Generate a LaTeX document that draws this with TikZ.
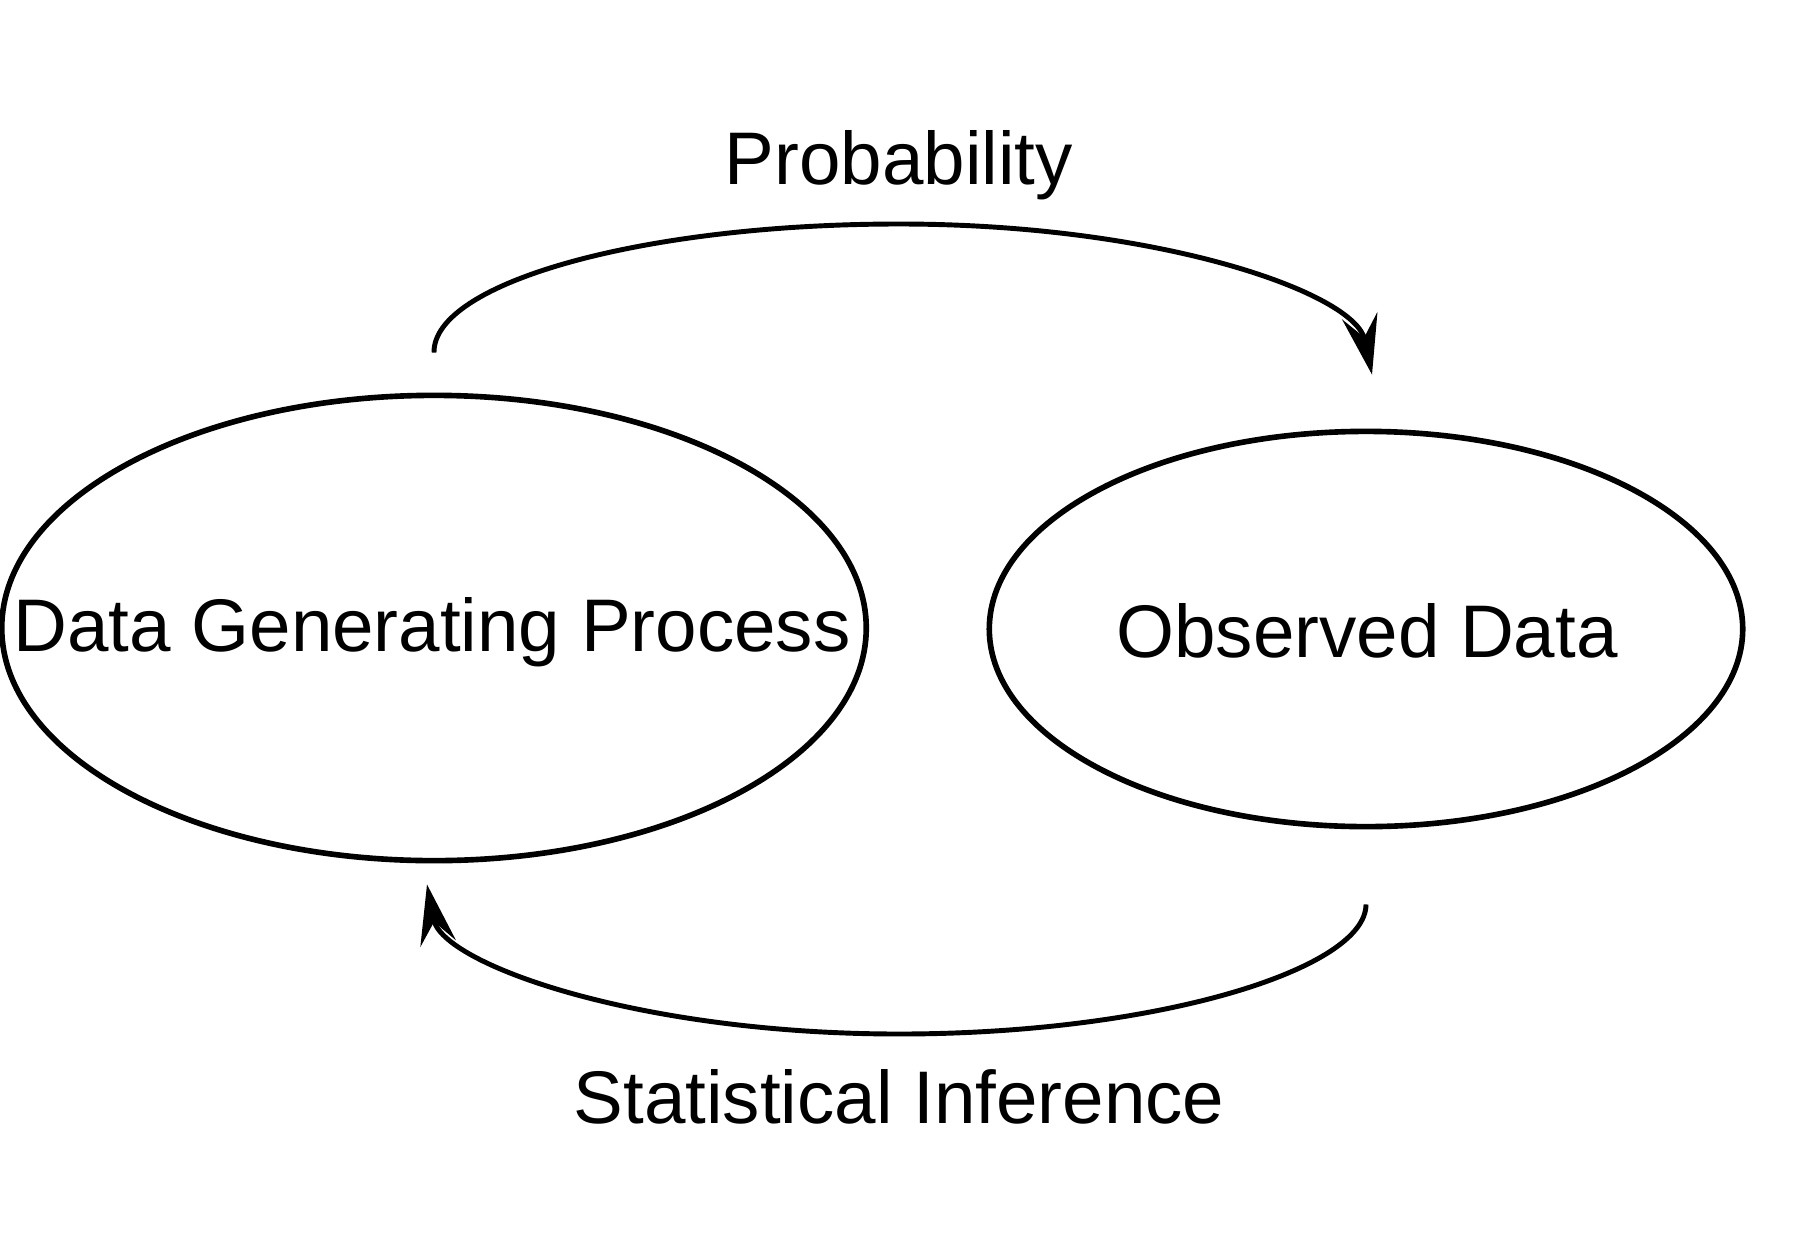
\documentclass[tikz,border=0pt]{standalone}
\usepackage{fontspec}
\setmainfont{Liberation Sans}
\usetikzlibrary{shapes.geometric,arrows.meta,calc}
\tikzset{
    blob/.style={draw, ellipse, line width=1.6pt, inner sep=0pt},
    txt/.style={anchor=base, inner sep=0pt, font=\fontsize{21.2}{26}\selectfont},
    flow/.style={line width=1.4pt, -{Stealth[length=6mm, width=3.6mm, inset=2.2mm]}}
}
\begin{document}
\begin{tikzpicture}[x=0.01cm, y=0.01cm]
        \useasboundingbox (0, 0) rectangle (1800, 1259);
        \node [blob, minimum width=8.64cm, minimum height=4.65cm] (dgp) at (434, 631) {};
        \node [blob, minimum width=7.53cm, minimum height=3.95cm] (obs) at (1366, 630) {};
        \node [txt] (dgptext) at (432, 608) {Data Generating Process};
        \node [txt] (obstext) at (1367, 602) {Observed Data};
        \coordinate (pstart) at ($(dgp.north)+(0, 40)$);
        \coordinate (ptop) at (899, 1035);
        \coordinate (pend) at ($(obs.north)+(6, 54)$);
        \coordinate (sstart) at ($(obs.south)+(0, -75)$);
        \coordinate (sbottom) at (899, 225);
        \coordinate (send) at ($(dgp.south)+(-7, -21)$);
        \draw [flow] (pstart) .. controls (433, 976) and (642, 1035) .. (ptop)
            .. controls (1160, 1035) and (1355, 966) .. (pend);
        \draw [flow] (sstart) .. controls (1366, 290) and (1157, 225) .. (sbottom)
            .. controls (638, 225) and (442, 295) .. (send);
        \node [txt] (prob) at (899, 1075) {Probability};
        \node [txt] (infer) at (899, 136) {Statistical Inference};
    \end{tikzpicture}
\end{document}
